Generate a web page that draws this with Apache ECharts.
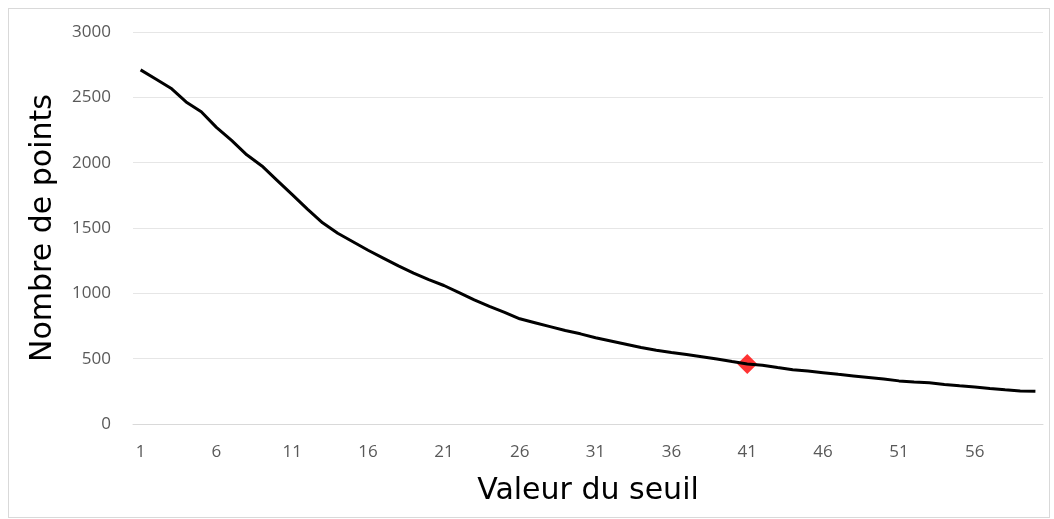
<!DOCTYPE html>
<html>
<head>
<meta charset="utf-8">
<script src="https://cdn.jsdelivr.net/npm/echarts@6/dist/echarts.min.js"></script>
<style>
  html, body { margin: 0; padding: 0; background: #fff; }
  #frame { position: absolute; left: 8px; top: 8px; width: 1040px; height: 508px; border: 1px solid #d9d9d9; }
  #main { position: absolute; left: 0; top: 0; width: 1054px; height: 519px; }
</style>
</head>
<body>
<div id="frame"></div>
<div id="main"></div>
<script>
// valeurs du seuil (1..60)
var seuils = [];
for (var s = 1; s <= 60; s++) seuils.push(String(s));

// nombre de points par seuil
var nbPoints = [
  2710, 2640, 2570, 2465, 2390, 2270, 2170, 2060, 1975, 1865,
  1755, 1645, 1540, 1460, 1395, 1330, 1270, 1210, 1155, 1105,
  1060, 1005, 950, 900, 855, 805, 775, 745, 715, 690,
  660, 635, 610, 585, 565, 548, 532, 515, 497, 478,
  460, 450, 432, 415, 405, 393, 380, 368, 356, 344,
  330, 322, 315, 303, 292, 283, 272, 262, 253, 250
];

// point mis en évidence
var seuilChoisi = '41';
var pointChoisi = [[seuilChoisi, nbPoints[seuils.indexOf(seuilChoisi)]]];

var myChart = echarts.init(document.getElementById('main'));
var option = {
  animation: false,
  grid: { left: 133, right: 11, top: 32, bottom: 95 },
  xAxis: {
    type: 'category',
    data: seuils,
    boundaryGap: true,
    name: 'Valeur du seuil',
    nameLocation: 'middle',
    nameGap: 52,
    nameTextStyle: { fontFamily: 'DejaVu Sans', fontSize: 30, color: '#000' },
    axisLine: { lineStyle: { color: '#d9d9d9', width: 1 } },
    axisTick: { show: false },
    axisLabel: { interval: 4, margin: 20, fontFamily: 'Open Sans', fontSize: 17, color: '#595959' }
  },
  yAxis: {
    type: 'value',
    min: 0,
    max: 3000,
    interval: 500,
    name: 'Nombre de points',
    nameLocation: 'middle',
    nameGap: 75,
    nameTextStyle: { fontFamily: 'DejaVu Sans', fontSize: 30, color: '#000' },
    axisLine: { show: false },
    axisTick: { show: false },
    splitLine: { lineStyle: { color: '#e6e6e6', width: 1 } },
    axisLabel: {
      margin: 22, fontFamily: 'Open Sans', fontSize: 17, color: '#595959',
      formatter: function (v) { return String(v); }
    }
  },
  series: [
    {
      type: 'line',
      data: nbPoints,
      symbol: 'none',
      lineStyle: { color: '#000', width: 3 }
    },
    {
      type: 'scatter',
      data: pointChoisi,
      symbol: 'diamond',
      symbolSize: 20,
      itemStyle: { color: '#ff0000' }
    }
  ]
};
myChart.setOption(option);
</script>
</body>
</html>
